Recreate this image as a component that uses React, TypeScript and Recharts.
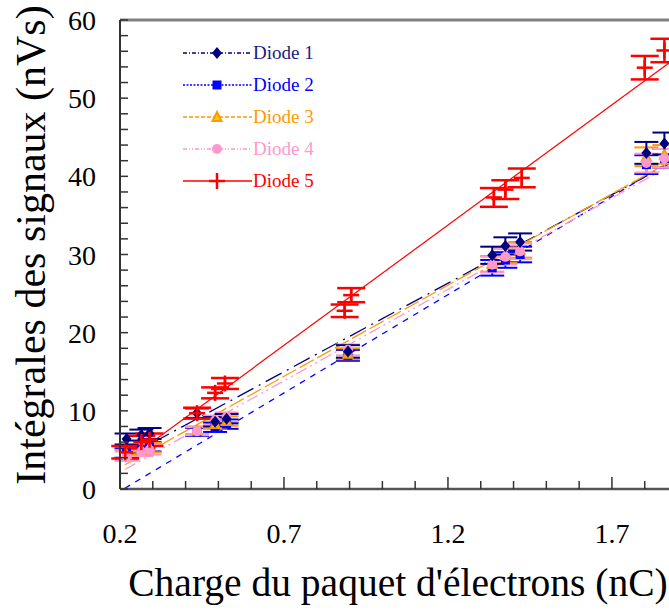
import React from "react";
import {
  ComposedChart,
  Scatter,
  Line,
  XAxis,
  YAxis,
  ErrorBar,
  ReferenceLine,
} from "recharts";

// charge du paquet (nC) for diodes 1-4
const charge = [0.22, 0.265, 0.29, 0.435, 0.49, 0.525, 0.895, 1.335, 1.375, 1.42, 1.805, 1.86];
const diode1 = [6.4, 6.9, 7.1, 9.7, 8.6, 9.0, 17.6, 29.9, 31.1, 31.6, 43.0, 44.2];
const diode2 = [4.6, 5.0, 5.4, 7.3, 7.9, 8.3, 17.1, 28.3, 29.3, 30.0, 41.5, 42.3];
const diode3 = [4.4, 5.0, 5.3, 7.5, 8.3, 8.7, 17.3, 28.8, 29.9, 30.6, 42.5, 42.8];
const diode4 = [4.2, 4.8, 5.0, 7.4, 8.8, 9.2, 17.8, 28.7, 29.7, 30.4, 41.7, 42.3];
const err1 = [0.7, 0.7, 0.7, 0.6, 0.6, 0.6, 0.8, 1.1, 1.1, 1.1, 1.4, 1.4];
const errOther = [0.6, 0.6, 0.6, 0.5, 0.6, 0.6, 0.7, 1.0, 1.0, 1.0, 1.2, 1.2];

// diode 5 has its own charges
const charge5 = [0.216, 0.265, 0.29, 0.435, 0.49, 0.52, 0.885, 0.905, 1.34, 1.375, 1.425, 1.8, 1.86];
const diode5 = [4.7, 6.0, 6.3, 9.7, 12.3, 13.5, 22.8, 24.8, 37.3, 38.3, 39.8, 53.9, 56.1];
const err5 = [0.8, 0.8, 0.8, 0.7, 0.7, 0.7, 0.8, 0.9, 1.2, 1.2, 1.2, 1.5, 1.5];

// linear fits, read at both ends of the plot
const fitX = [0.215, 1.874];
const fit1 = [4.0, 41.6];
const fit2 = [0.1, 41.8];
const fit3 = [3.1, 41.8];
const fit4 = [2.5, 41.3];
const fit5 = [3.45, 54.5];

const xTicks = [0.2, 0.3, 0.4, 0.5, 0.6, 0.7, 0.8, 0.9, 1.0, 1.1, 1.2, 1.3, 1.4, 1.5, 1.6, 1.7, 1.8];
const xLabels = [0.2, 0.7, 1.2, 1.7];
const yTicks = [0, 2, 4, 6, 8, 10, 12, 14, 16, 18, 20, 22, 24, 26, 28, 30, 32, 34, 36, 38, 40, 42, 44, 46, 48, 50, 52, 54, 56, 58, 60];
const yLabels = [0, 10, 20, 30, 40, 50, 60];

const FONT = "'Liberation Serif', 'DejaVu Serif', serif";

const NAVY = "#00007f";
const BLUE = "#0000ff";
const ORANGE = "#ff9900";
const PINK = "#ff99cc";
const RED = "#ff0000";

const pts = (xs: number[], ys: number[], es: number[]) =>
  xs.map((x, i) => ({ x, y: ys[i], err: es[i] }));
const fit = (ys: number[]) => fitX.map((x, i) => ({ x, y: ys[i] }));

const Diamond = ({ cx, cy }: any) => (
  <path d={`M${cx},${cy - 6} L${cx + 5},${cy} L${cx},${cy + 6} L${cx - 5},${cy} Z`} fill={NAVY} />
);
const Square = ({ cx, cy }: any) => (
  <rect x={cx - 4.5} y={cy - 4.5} width={9} height={9} fill={BLUE} />
);
const Triangle = ({ cx, cy }: any) => (
  <path d={`M${cx},${cy - 5} L${cx + 4.5},${cy + 4} L${cx - 4.5},${cy + 4} Z`} fill="#ffcc00" stroke={ORANGE} strokeWidth={2} />
);
const Dot = ({ cx, cy }: any) => <circle cx={cx} cy={cy} r={5} fill={PINK} />;
const Plus = ({ cx, cy }: any) => (
  <g stroke={RED} strokeWidth={2.5}>
    <line x1={cx - 8} x2={cx + 8} y1={cy} y2={cy} />
    <line x1={cx} x2={cx} y1={cy - 8} y2={cy + 8} />
  </g>
);

const XTick = ({ x, y, payload }: any) => {
  const v = payload.value;
  const major = xLabels.some((l) => Math.abs(l - v) < 1e-6);
  return (
    <g>
      <line x1={x} x2={x} y1={y} y2={y - (major ? 12 : 8)} stroke="#333" strokeWidth={1.5} />
      {major && (
        <text x={x} y={y + 54} textAnchor="middle" fontSize={28} fontFamily={FONT} fill="#000">
          {v.toFixed(1)}
        </text>
      )}
    </g>
  );
};

const YTick = ({ x, y, payload }: any) => {
  const v = payload.value;
  const major = yLabels.includes(v);
  return (
    <g>
      <line x1={x} x2={x + 8} y1={y} y2={y} stroke="#333" strokeWidth={1.5} />
      {major && (
        <text x={x - 24} y={y + 10} textAnchor="end" fontSize={28} fontFamily={FONT} fill="#000">
          {v}
        </text>
      )}
    </g>
  );
};

const legendRows = [
  { name: "Diode 1", color: NAVY, dash: "4 2 1 2", text: "#1a1a80", mark: "diamond" },
  { name: "Diode 2", color: BLUE, dash: "2 1.5", text: BLUE, mark: "square" },
  { name: "Diode 3", color: ORANGE, dash: "4 2", text: ORANGE, mark: "triangle" },
  { name: "Diode 4", color: PINK, dash: "4 2 1 2 1 2", text: PINK, mark: "circle" },
  { name: "Diode 5", color: RED, dash: "", text: RED, mark: "plus" },
];

const LegendBox = () => (
  <svg width={160} height={160} style={{ position: "absolute", left: 175, top: 32 }}>
    {legendRows.map((r, i) => {
      const y = 21 + i * 32;
      const cx = 42;
      return (
        <g key={r.name}>
          <line x1={8} x2={77} y1={y} y2={y} stroke={r.color} strokeWidth={1.3} strokeDasharray={r.dash} />
          {r.mark === "diamond" && <Diamond cx={cx} cy={y} />}
          {r.mark === "square" && <Square cx={cx} cy={y} />}
          {r.mark === "triangle" && <Triangle cx={cx} cy={y} />}
          {r.mark === "circle" && <Dot cx={cx} cy={y} />}
          {r.mark === "plus" && <Plus cx={cx} cy={y} />}
          <text x={78} y={y + 6} fontSize={19} fontFamily={FONT} fill={r.text}>
            {r.name}
          </text>
        </g>
      );
    })}
  </svg>
);

export default function App() {
  return (
    <div style={{ position: "relative", width: 669, height: 611, background: "#fff" }}>
      <style>{`html, body { margin: 0; padding: 0; overflow: hidden; }`}</style>
      <ComposedChart width={669} height={611} margin={{ top: 20, right: 0, bottom: 0, left: 0 }}>
        <XAxis
          dataKey="x"
          type="number"
          domain={[0.2, 1.874]}
          allowDataOverflow
          ticks={xTicks}
          interval={0}
          tickSize={0}
          tickMargin={0}
          tick={<XTick />}
          height={122}
          stroke="#555"
          strokeWidth={2.5}
          label={{
            content: () => (
              <text x={398} y={596} textAnchor="middle" fontSize={39.5} fontFamily={FONT} fill="#000">
                Charge du paquet d'électrons (nC)
              </text>
            ),
          }}
        />
        <YAxis
          dataKey="y"
          type="number"
          domain={[0, 60]}
          allowDataOverflow
          ticks={yTicks}
          interval={0}
          tickSize={0}
          tickMargin={0}
          tick={<YTick />}
          width={120}
          stroke="#333"
          strokeWidth={2}
          label={{
            content: () => (
              <text
                x={45}
                y={245}
                textAnchor="middle"
                fontSize={42}
                fontFamily={FONT}
                fill="#000"
                transform="rotate(-90 45 245)"
              >
                Intégrales des signaux (nVs)
              </text>
            ),
          }}
        />
        <ReferenceLine y={60} stroke="#808080" strokeWidth={3} ifOverflow="visible" />

        <Line data={fit(fit1)} dataKey="y" stroke={NAVY} strokeWidth={1.3} strokeDasharray="18 6 2 6" dot={false} isAnimationActive={false} />
        <Line data={fit(fit2)} dataKey="y" stroke={BLUE} strokeWidth={1.3} strokeDasharray="6 6" dot={false} isAnimationActive={false} />
        <Line data={fit(fit3)} dataKey="y" stroke={ORANGE} strokeWidth={1.3} strokeDasharray="16 4" dot={false} isAnimationActive={false} />
        <Line data={fit(fit4)} dataKey="y" stroke={PINK} strokeWidth={1.3} strokeDasharray="12 4 2 4 2 4" dot={false} isAnimationActive={false} />
        <Line data={fit(fit5)} dataKey="y" stroke={RED} strokeWidth={1.2} dot={false} isAnimationActive={false} />

        <Scatter data={pts(charge, diode2, errOther)} dataKey="y" shape={<Square />} isAnimationActive={false}>
          <ErrorBar dataKey="err" direction="y" width={12} stroke={BLUE} strokeWidth={2} />
        </Scatter>
        <Scatter data={pts(charge, diode3, errOther)} dataKey="y" shape={<Triangle />} isAnimationActive={false}>
          <ErrorBar dataKey="err" direction="y" width={12} stroke={ORANGE} strokeWidth={2} />
        </Scatter>
        <Scatter data={pts(charge, diode4, errOther)} dataKey="y" shape={<Dot />} isAnimationActive={false}>
          <ErrorBar dataKey="err" direction="y" width={12} stroke={PINK} strokeWidth={2} />
        </Scatter>
        <Scatter data={pts(charge, diode1, err1)} dataKey="y" shape={<Diamond />} isAnimationActive={false}>
          <ErrorBar dataKey="err" direction="y" width={12} stroke={NAVY} strokeWidth={2} />
        </Scatter>
        <Scatter data={pts(charge5, diode5, err5)} dataKey="y" shape={<Plus />} isAnimationActive={false}>
          <ErrorBar dataKey="err" direction="y" width={14} stroke={RED} strokeWidth={2.5} />
        </Scatter>
      </ComposedChart>
      <LegendBox />
    </div>
  );
}
